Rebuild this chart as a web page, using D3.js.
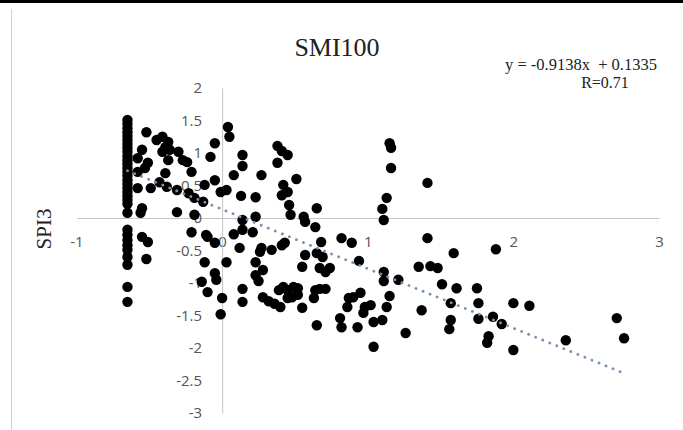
<!DOCTYPE html>
<html>
<head>
<meta charset="utf-8">
<script src="https://cdn.jsdelivr.net/npm/d3@7/dist/d3.min.js"></script>
<style>
  html, body { margin: 0; padding: 0; background: #fff; }
  svg { display: block; }
</style>
</head>
<body>
<svg id="chart" width="683" height="430"></svg>
<script>
// ---- data ----
const title = "SMI100";
const yLabel = "SPI3";
const equation = "y = -0.9138x  + 0.1335";
const rText = "R=0.71";
const slope = -0.9138;
const intercept = 0.1335;
const xTicks = [-1, 0, 1, 2, 3];
const yTicks = [-3, -2.5, -2, -1.5, -1, -0.5, 0, 0.5, 1, 1.5, 2];

// column of points at x = -0.65
const colX = -0.65;
const colY = [1.51, 1.45, 1.38, 1.32, 1.26, 1.20, 1.14, 1.08, 1.02, 0.95, 0.89, 0.83,
  0.77, 0.71, 0.65, 0.58, 0.52, 0.46, 0.40, 0.34, 0.28, 0.22, 0.08, -0.18, -0.26,
  -0.34, -0.42, -0.49, -0.60, -0.72, -1.06, -1.29];

const xVals = [
  -0.52, -0.55, -0.58, -0.53, -0.58, -0.51, -0.45, -0.41, -0.37, -0.36, -0.39, -0.41,
  -0.37, -0.30, -0.27, -0.24, -0.39, -0.58, -0.49, -0.43, -0.38, -0.31, -0.23, -0.21,
  -0.12, -0.05, -0.19, -0.13, -0.08, -0.05, -0.01, 0.03, -0.56, -0.55, -0.31, -0.19,
  -0.55, -0.51, -0.52,
  0.04, 0.05, 0.14, 0.14, 0.08, 0.27, 0.38, 0.41, 0.45, 0.38, 0.51, 0.42, 0.45, 0.41,
  0.13, 0.23, 0.46, 0.47, 0.56, 0.57, 0.65, 0.64, 0.23, 0.14, 0.14, 0.21, 0.08, -0.05,
  -0.11, -0.21, -0.10, 0.12, 0.27, 0.34, 0.41, 0.43, 0.68, 0.82, 0.89, 1.15, 1.16, 1.16,
  1.13, 1.10, 1.11, 1.41, 1.41, 1.59, 1.88,
  -0.12, 0.03, -0.05, -0.04, -0.14, -0.10, 0.00, -0.01, 0.14, 0.14, 0.26, 0.23, 0.28,
  0.23, 0.25, 0.28, 0.32, 0.36, 0.40, 0.39, 0.57, 0.65, 0.69, 0.55, 0.67, 0.71, 0.74,
  0.94, 1.11, 1.11, 1.21, 0.42, 0.45, 0.49, 0.52, 0.45, 0.48, 0.52, 0.55, 0.64, 0.67,
  0.71, 0.63, 0.65, 0.87, 0.90, 0.95, 0.86, 0.98, 1.02, 1.15, 1.13, 0.97, 0.81, 0.82,
  0.93, 1.04, 1.10, 1.04, 1.26, 1.37, 1.35, 1.43, 1.48, 1.51,
  1.61, 1.75, 1.76, 1.57, 1.57, 1.56, 1.76, 1.86, 1.92, 2.00, 2.11, 1.83, 1.82, 2.00,
  2.36, 2.71, 2.76
];
const yVals = [
  1.32, 1.05, 0.92, 0.77, 0.71, 0.85, 1.20, 1.25, 1.17, 1.05, 1.09, 1.02,
  0.89, 1.02, 0.89, 0.86, 0.69, 0.46, 0.46, 0.55, 0.48, 0.43, 0.38, 0.71,
  0.51, 0.58, 0.31, 0.25, 0.94, 1.15, 0.40, 0.43, 0.08, 0.15, 0.09, 0.05,
  -0.29, -0.37, -0.63,
  1.40, 1.25, 0.97, 0.80, 0.66, 0.66, 1.11, 1.03, 0.97, 0.85, 0.60, 0.51, 0.40, 0.35,
  0.34, 0.32, 0.20, 0.05, 0.02, -0.06, 0.15, -0.14, 0.02, -0.03, -0.18, -0.22, -0.25, -0.38,
  -0.26, -0.22, -0.29, -0.46, -0.46, -0.49, -0.42, -0.38, -0.37, -0.31, -0.38, 1.15, 1.08, 0.77,
  0.31, 0.14, -0.03, 0.54, -0.31, -0.54, -0.48,
  -0.68, -0.68, -0.85, -0.95, -0.98, -1.14, -1.23, -1.48, -1.09, -1.29, -0.52, -0.68, -0.80,
  -0.88, -0.97, -1.22, -1.28, -1.32, -1.37, -1.11, -0.57, -0.54, -0.60, -0.75, -0.77, -0.83, -0.77,
  -0.66, -0.83, -0.97, -0.95, -1.06, -1.11, -1.06, -1.08, -1.23, -1.22, -1.18, -1.38, -1.11, -1.09,
  -1.09, -1.23, -1.65, -1.23, -1.22, -1.15, -1.37, -1.37, -1.34, -1.20, -1.37, -1.46, -1.54, -1.68,
  -1.68, -1.60, -1.57, -1.98, -1.77, -1.42, -0.75, -0.74, -0.77, -1.02,
  -1.08, -1.08, -1.31, -1.31, -1.57, -1.71, -1.55, -1.52, -1.63, -1.31, -1.35, -1.82, -1.92, -2.03,
  -1.88, -1.54, -1.85
];

// ---- chart ----
const svg = d3.select("#chart");
const W = 683, H = 430;

const x = d3.scaleLinear().domain([-1, 3]).range([76.5, 659]);
const y = d3.scaleLinear().domain([-3, 2]).range([413, 88]);

// frame
svg.append("rect").attr("x", 0).attr("y", 0).attr("width", W).attr("height", 3).attr("fill", "#000");
svg.append("line").attr("x1", 11.5).attr("x2", 11.5).attr("y1", 9).attr("y2", H)
  .attr("stroke", "#d0d0d0").attr("stroke-width", 1);

const tickFont = "'Open Sans', 'Liberation Sans', sans-serif";
const fmt = d => String(d);

// axes
const xAxis = d3.axisBottom(x).tickValues(xTicks).tickSize(0).tickPadding(18).tickFormat(fmt);
const yAxis = d3.axisLeft(y).tickValues(yTicks).tickSize(0).tickPadding(20).tickFormat(fmt);

const gx = svg.append("g").attr("transform", `translate(0,${y(0)})`).call(xAxis);
const gy = svg.append("g").attr("transform", `translate(${x(0)},0)`).call(yAxis);
[gx, gy].forEach(g => {
  g.select(".domain").attr("stroke", "#c4c4c4").attr("stroke-width", 1);
  g.selectAll("text").attr("fill", "#555").style("font-family", tickFont).style("font-size", "15px");
});

// points
const pts = colY.map(v => ({x: colX, y: v}))
  .concat(xVals.map((v, i) => ({x: v, y: yVals[i]})));
svg.append("g").selectAll("circle").data(pts).join("circle")
  .attr("cx", d => x(d.x)).attr("cy", d => y(d.y)).attr("r", 5.2).attr("fill", "#000");

// trendline
const xExt = d3.extent(pts, d => d.x);
const trend = xExt.map(v => ({x: v, y: slope * v + intercept}));
svg.append("path").datum(trend)
  .attr("d", d3.line().x(d => x(d.x)).y(d => y(d.y)))
  .attr("fill", "none").attr("stroke", "#7a93ad").attr("stroke-width", 2.8)
  .attr("stroke-linecap", "round").attr("stroke-dasharray", "0.1 7.5");

// title
const serif = "'Liberation Serif', 'Times New Roman', serif";
svg.append("text").attr("x", 337).attr("y", 56).attr("text-anchor", "middle")
  .style("font-family", serif).style("font-size", "26px")
  .attr("fill", "#222").text(title);

// equation
svg.append("text").attr("x", 581).attr("y", 70).attr("text-anchor", "middle")
  .style("font-family", serif).style("font-size", "16.5px").attr("fill", "#222")
  .attr("xml:space", "preserve").style("white-space", "pre").text(equation);
svg.append("text").attr("x", 605).attr("y", 88).attr("text-anchor", "middle")
  .style("font-family", serif).style("font-size", "16px").attr("fill", "#222").text(rText);

// y axis title
svg.append("text").attr("transform", "translate(51,229) rotate(-90)").attr("text-anchor", "middle")
  .style("font-family", serif).style("font-size", "21px").attr("fill", "#222").text(yLabel);
</script>
</body>
</html>
